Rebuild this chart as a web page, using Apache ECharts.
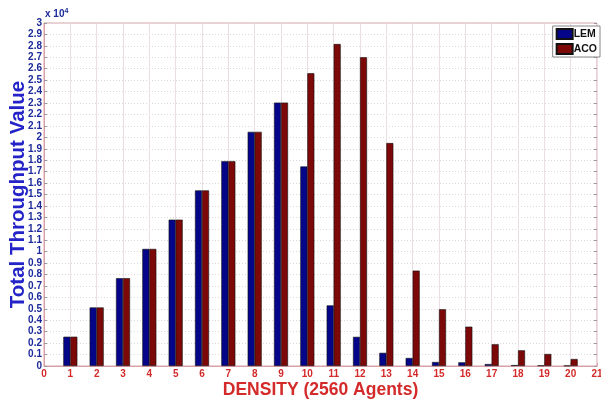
<!DOCTYPE html>
<html><head><meta charset="utf-8">
<script src="https://cdn.jsdelivr.net/npm/echarts@6/dist/echarts.min.js"></script>
<style>html,body{margin:0;padding:0;background:#fff}#c{width:601px;height:403px}</style>
</head><body><div id="c"></div>
<script>
const density = [1,2,3,4,5,6,7,8,9,10,11,12,13,14,15,16,17,18,19,20];
const lem = [2560,5120,7680,10240,12800,15360,17920,20480,23040,17450,5300,2550,1150,700,350,320,170,80,50,30];
const aco = [2560,5120,7680,10240,12800,15360,17920,20480,23040,25600,28160,27000,19500,8340,4960,3440,1900,1370,1050,610];
const seriesNames = ['LEM','ACO'];
const yTickScale = 10000;

const chart = echarts.init(document.getElementById('c'));
const FONT = '"Liberation Sans", Arial, sans-serif';
const pink = '#d9a0a8';
chart.setOption({
  animation:false,
  backgroundColor:'#fff',
  grid:{left:44,right:4,top:23,bottom:37,containLabel:false,outerBoundsMode:'none',show:true,borderColor:pink,borderWidth:1},
  legend:{
    right:1, top:26, orient:'vertical', itemWidth:16, itemHeight:10, itemGap:3, icon:'rect',
    backgroundColor:'#fff', borderColor:'#888', borderWidth:1, padding:[2,3,2,3],
    textStyle:{fontFamily:FONT,fontWeight:'bold',fontSize:10.5,color:'#111',padding:[0,0,0,-4]},
    data:seriesNames
  },
  xAxis:{
    type:'value', min:0, max:21, interval:1,
    axisLine:{show:true,lineStyle:{color:pink}},
    axisTick:{show:true,inside:true,length:3,lineStyle:{color:pink}},
    axisLabel:{color:'#d42a2a',fontFamily:FONT,fontWeight:'bold',fontSize:10,margin:3},
    splitLine:{show:true,lineStyle:{color:'#eadde3',width:1}},
    name:'DENSITY (2560 Agents)', nameLocation:'middle', nameGap:15, nameMoveOverlap:false,
    nameTextStyle:{color:'#d42a2a',fontFamily:FONT,fontWeight:'bold',fontSize:17.5}
  },
  yAxis:[{
    type:'value', min:0, max:30000, interval:1000,
    axisLine:{show:true,lineStyle:{color:pink}},
    axisTick:{show:true,inside:true,length:3,lineStyle:{color:'#999'}},
    axisLabel:{color:'#1c2a9a',fontFamily:FONT,fontWeight:'bold',fontSize:10,margin:2,
      formatter:v=>String(+(v/yTickScale).toFixed(1))},
    splitLine:{show:true,lineStyle:{color:'#d8d8d8',type:[1,2],width:1}},
    name:'Total Throughput Value', nameLocation:'middle', nameGap:15, nameMoveOverlap:false,
    nameTextStyle:{color:'#2323c8',fontFamily:FONT,fontWeight:'bold',fontSize:20.5}
  },{
    type:'value', min:0, max:30000, interval:1000, position:'right',
    axisLine:{show:false}, axisTick:{show:true,inside:true,length:3,lineStyle:{color:'#999'}},
    axisLabel:{show:false}, splitLine:{show:false}
  }],
  graphic:[{
    type:'text', left:45, top:8,
    style:{text:'x 10{s|4}', rich:{s:{fontSize:7,verticalAlign:'top',fontFamily:FONT,fontWeight:'bold',fill:'#1c2a9a',padding:[0,0,6,0]}},
      font:'bold 10px '+FONT, fill:'#1c2a9a'}
  }],
  series:[
    {name:'LEM',type:'bar',barWidth:7,barGap:'0%',
     itemStyle:{color:'#05058a',borderColor:'#111',borderWidth:0.6},
     data:density.map((d,i)=>[d,lem[i]])},
    {name:'ACO',type:'bar',barWidth:7,barGap:'0%',
     itemStyle:{color:'#7d0808',borderColor:'#111',borderWidth:0.6},
     data:density.map((d,i)=>[d,aco[i]])}
  ]
});
</script></body></html>
